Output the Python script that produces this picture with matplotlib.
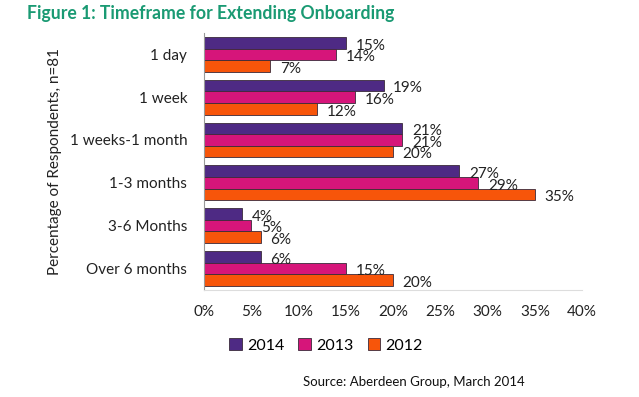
import numpy as np
import matplotlib.pyplot as plt
from matplotlib.ticker import PercentFormatter

categories = ["1 day", "1 week", "1 weeks-1 month", "1-3 months", "3-6 Months", "Over 6 months"]
years = ["2014", "2013", "2012"]
vals_2014 = [15, 19, 21, 27, 4, 6]
vals_2013 = [14, 16, 21, 29, 5, 15]
vals_2012 = [7, 12, 20, 35, 6, 20]
colors = ["#4E2A84", "#D6157A", "#F7550A"]

plt.rcParams['font.family'] = ['Lato', 'DejaVu Sans']

fig = plt.figure(figsize=(6.39, 3.97), dpi=100)
ax = fig.add_axes([0.319, 0.270, 0.592, 0.647])

y = np.arange(len(categories))
h = 0.27
series = [vals_2014, vals_2013, vals_2012]
for i, (vals, yr, c) in enumerate(zip(series, years, colors)):
    pos = y + (i - 1) * h
    bars = ax.barh(pos, vals, height=h, color=c, edgecolor="#3a2a3a", linewidth=0.6, label=yr)
    for b, v in zip(bars, vals):
        ax.annotate(f"{v}%", (b.get_width(), b.get_y() + b.get_height() / 2),
                    xytext=(7, -2), textcoords="offset points",
                    ha="left", va="center", fontsize=11, color="#222222")

ax.set_xlim(0, 40)
ax.set_ylim(len(categories) - 0.5, -0.5)
ax.set_xticks(range(0, 41, 5))
ax.xaxis.set_major_formatter(PercentFormatter(decimals=0))
ax.set_yticks(y)
ax.set_yticklabels(categories)
ax.tick_params(axis="x", length=0, labelsize=11, colors="#222222", pad=11)
ax.tick_params(axis="y", length=0, labelsize=11, colors="#222222", pad=12)
for s in ["top", "right"]:
    ax.spines[s].set_visible(False)
ax.spines["left"].set_color("#999999")
ax.spines["bottom"].set_color("#dddddd")

fig.text(0.086, 0.594, "Percentage of Respondents, n=81", rotation=90,
         ha="center", va="center", fontsize=11, color="#222222")

fig.text(0.042, 0.965, "Figure 1: Timeframe for Extending Onboarding",
         fontsize=12.7, fontweight="bold", color="#1A9A73", va="center")

fig.legend(loc="center", bbox_to_anchor=(0.51, 0.13), ncol=3, frameon=False,
           fontsize=11.5, handlelength=0.8, handleheight=0.8, handletextpad=0.3,
           columnspacing=0.9)

fig.text(0.647, 0.038, "Source: Aberdeen Group, March 2014",
         ha="center", va="center", fontsize=9.5, color="#111111")

fig.savefig("out.png", dpi=100)
